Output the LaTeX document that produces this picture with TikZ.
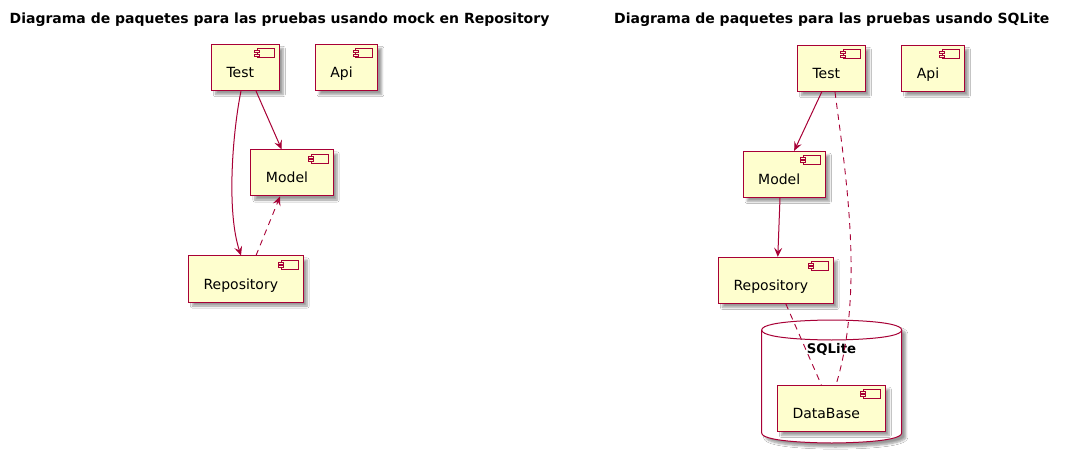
\documentclass[tikz,border=0pt]{standalone}
\usepackage{fontspec}
\setmainfont{DejaVu Sans}
\usetikzlibrary{arrows.meta,shadows.blur}
\definecolor{pred}{HTML}{A80036}
\definecolor{pfill}{HTML}{FEFECE}
\tikzset{
  pshadow/.style={blur shadow={shadow xshift=4pt, shadow yshift=-4pt, shadow blur steps=6, shadow opacity=40}},
  comp/.style={draw=pred, fill=pfill, line width=1pt, inner xsep=0pt, inner ysep=0pt,
    minimum height=46pt, text height=20pt, text depth=0pt,
    font=\fontsize{14}{16}\selectfont, pshadow,
    path picture={
      \draw[pred, fill=pfill, line width=0.8pt]
        ([shift={(-22,4)}]path picture bounding box.north east) rectangle ([shift={(-5,13)}]path picture bounding box.north east);
      \draw[pred, fill=pfill, line width=0.8pt]
        ([shift={(-24.5,6)}]path picture bounding box.north east) rectangle ([shift={(-19.5,8)}]path picture bounding box.north east);
      \draw[pred, fill=pfill, line width=0.8pt]
        ([shift={(-24.5,9.5)}]path picture bounding box.north east) rectangle ([shift={(-19.5,11.5)}]path picture bounding box.north east);
    }},
  titletext/.style={font=\fontsize{14}{16}\selectfont\bfseries, anchor=base, inner sep=0pt},
  dbtext/.style={font=\fontsize{13.3}{15}\selectfont\bfseries, anchor=base, inner sep=0pt},
  edge/.style={draw=pred, line width=1pt, -{Stealth[length=9pt,width=8pt,inset=3.5pt]}},
  dashedge/.style={draw=pred, line width=0.9pt, dash pattern=on 6pt off 5pt},
}
\newcommand{\ct}[1]{\hspace*{15pt}#1\hspace*{25pt}}
\begin{document}
\begin{tikzpicture}[x=1pt,y=-1pt]
\useasboundingbox[fill=white] (0,0) rectangle (1070,462);

% titles
\node[titletext] (ltitle) at (279.5,23.3) {Diagrama de paquetes para las pruebas usando mock en Repository};
\node[titletext] (rtitle) at (831.8,23.3) {Diagrama de paquetes para las pruebas usando SQLite};

% ---------- left diagram ----------
\node[comp] (ltest) at (245.3,67.5) {\ct{Test}};
\node[comp] (lapi) at (346.5,67.5) {\ct{Api}};
\node[comp] (lmodel) at (292,173) {\ct{Model}};
\node[comp] (lrepo) at (245.8,279) {\ct{Repository}};

\draw[edge] ([xshift=10.7pt]ltest.south) -- ([xshift=-10.3pt]lmodel.north);
\draw[edge] ([xshift=-4.3pt]ltest.south) .. controls (233,130) and (226,210) .. ([xshift=-4.8pt]lrepo.north);
\draw[dashedge, -{Stealth[length=9pt,width=8pt,inset=3.5pt]}] ([xshift=10.2pt]lrepo.north) -- ([xshift=-12pt]lmodel.south);

% ---------- right diagram ----------
\path[draw=pred, fill=white, line width=1pt, pshadow]
  (761.7,330) .. controls (761.7,320) and (831.7,320) .. (831.7,320)
  .. controls (831.7,320) and (901.7,320) .. (901.7,330)
  -- (901.7,433) .. controls (901.7,443) and (831.7,443) .. (831.7,443)
  .. controls (831.7,443) and (761.7,443) .. (761.7,433) -- cycle;
\draw[pred, line width=1pt]
  (761.7,330) .. controls (761.7,340) and (831.7,340) .. (831.7,340)
  .. controls (831.7,340) and (901.7,340) .. (901.7,330);
\node[dbtext] (sqlite) at (831.5,353.5) {SQLite};

\node[comp] (rtest) at (831.3,68.5) {\ct{Test}};
\node[comp] (rapi) at (933,68.5) {\ct{Api}};
\node[comp] (rmodel) at (784.2,174.3) {\ct{Model}};
\node[comp] (rrepo) at (775.8,280.3) {\ct{Repository}};
\node[comp] (rdb) at (831.3,408.3) {\ct{DataBase}};

\draw[edge] ([xshift=-9.6pt]rtest.south) -- ([xshift=10pt]rmodel.north);
\draw[edge] ([xshift=-4.2pt]rmodel.south) -- ([xshift=2pt]rrepo.north);
\draw[dashedge] ([xshift=10pt]rrepo.south) -- ([xshift=-10pt]rdb.north);
\draw[dashedge] ([xshift=3.7pt]rtest.south) .. controls (845,170) and (865,290) .. ([xshift=4.7pt]rdb.north);
\end{tikzpicture}
\end{document}
